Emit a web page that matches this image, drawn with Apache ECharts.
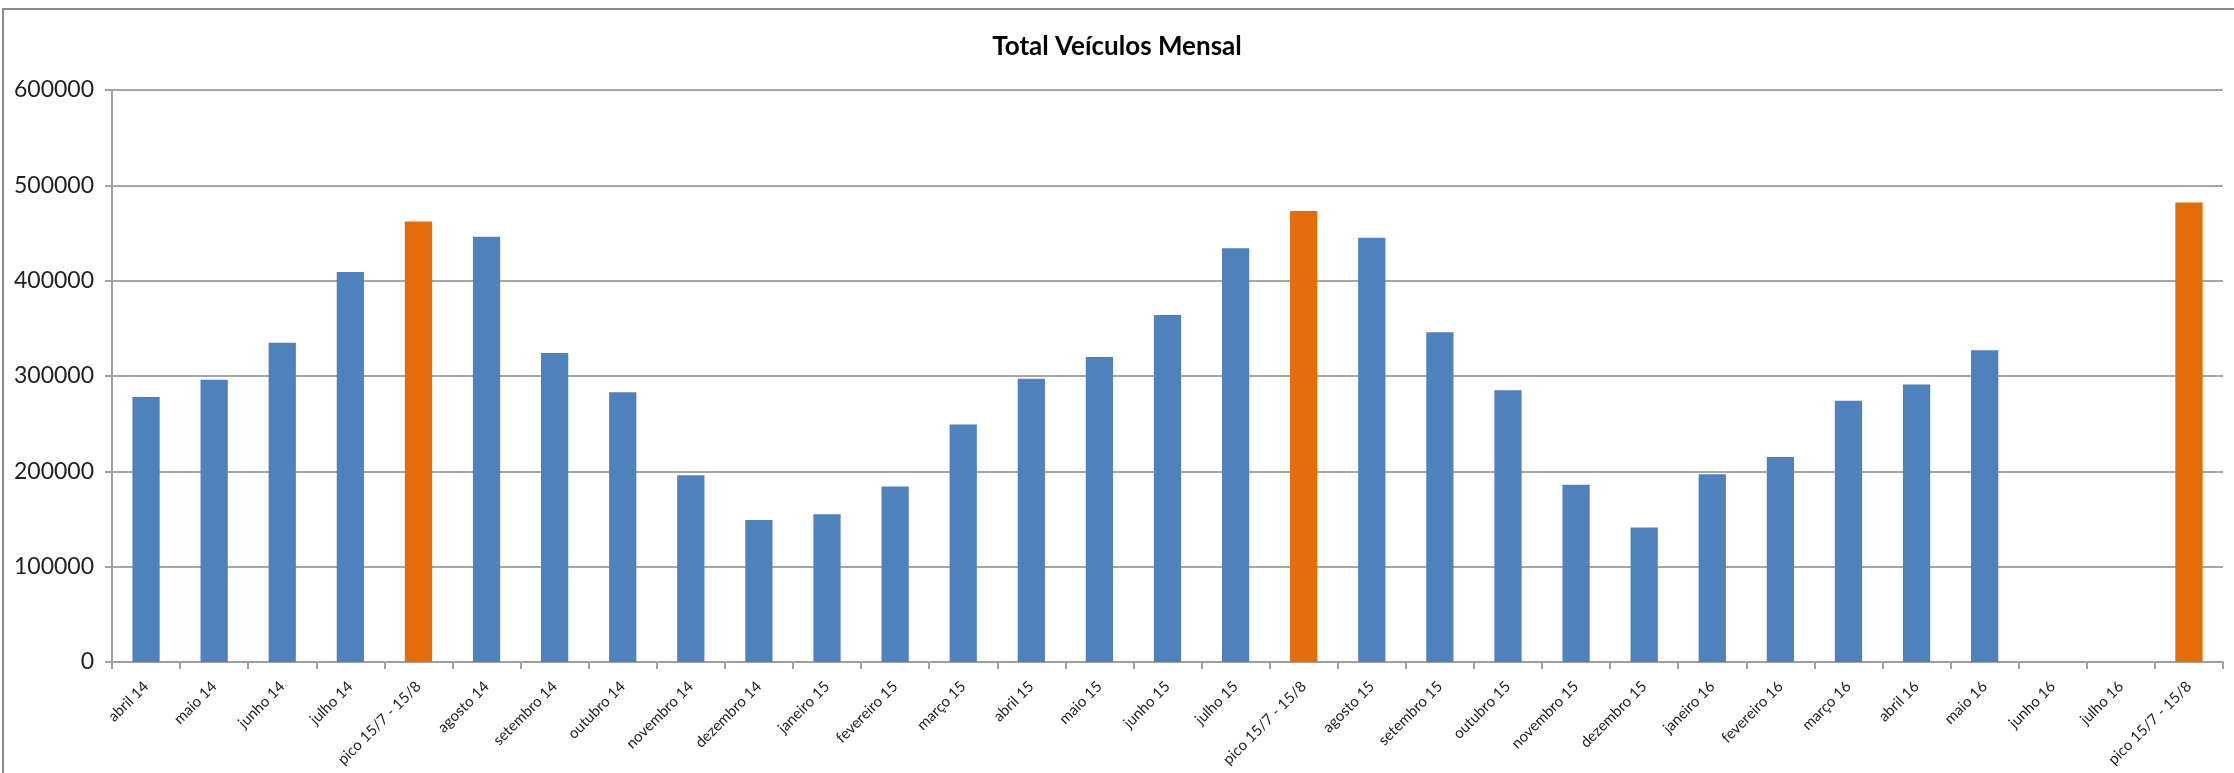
<!DOCTYPE html>
<html>
<head>
<meta charset="utf-8">
<script src="https://cdn.jsdelivr.net/npm/echarts@6/dist/echarts.min.js"></script>
<style>
html,body{margin:0;padding:0;background:#fff;}
#chart{width:2234px;height:773px;}
</style>
</head>
<body>
<div id="chart"></div>
<script>
const titleText = 'Total Veículos Mensal';
const categories = [
  'abril 14','maio 14','junho 14','julho 14','pico 15/7 - 15/8','agosto 14','setembro 14','outubro 14',
  'novembro 14','dezembro 14','janeiro 15','fevereiro 15','março 15','abril 15','maio 15','junho 15',
  'julho 15','pico 15/7 - 15/8','agosto 15','setembro 15','outubro 15','novembro 15','dezembro 15',
  'janeiro 16','fevereiro 16','março 16','abril 16','maio 16','junho 16','julho 16','pico 15/7 - 15/8'
];
const totals = [
  278000, 296000, 335000, 409000, 462000, 446000, 324000, 283000,
  196000, 149000, 155000, 184000, 249000, 297000, 320000, 364000,
  434000, 473000, 445000, 346000, 285000, 186000, 141000,
  197000, 215000, 274000, 291000, 327000, null, null, 482000
];
const peakIndices = [4, 17, 30];
const yTicks = [0, 100000, 200000, 300000, 400000, 500000, 600000];

const BLUE = '#4F81BD';
const ORANGE = '#E46C0A';

const chart = echarts.init(document.getElementById('chart'));
chart.setOption({
  backgroundColor: '#ffffff',
  animation: false,
  title: {
    text: titleText,
    left: 'center',
    top: 29,
    textStyle: { fontFamily: 'Lato', fontWeight: 'bold', fontSize: 26, color: '#000' }
  },
  graphic: [{
    type: 'rect',
    shape: { x: 3, y: 9, width: 2260, height: 800 },
    style: { fill: 'none', stroke: '#8c8c8c', lineWidth: 2 },
    silent: true
  }],
  grid: { left: 112, right: 11, top: 90, bottom: 111 },
  xAxis: {
    type: 'category',
    data: categories,
    axisLine: { lineStyle: { color: '#a0a0a0', width: 2 } },
    axisTick: { show: true, length: 7, alignWithLabel: false, lineStyle: { color: '#a0a0a0', width: 2 } },
    axisLabel: {
      interval: 0,
      rotate: 45,
      margin: 22,
      fontFamily: 'Lato',
      fontSize: 15,
      color: '#222'
    }
  },
  yAxis: {
    type: 'value',
    min: yTicks[0],
    max: yTicks[yTicks.length - 1],
    interval: yTicks[1] - yTicks[0],
    axisLine: { show: true, lineStyle: { color: '#a0a0a0', width: 2 } },
    axisTick: { show: true, length: 7, lineStyle: { color: '#a0a0a0', width: 2 } },
    splitLine: { lineStyle: { color: '#a6a6a6', width: 2 } },
    axisLabel: {
      margin: 18,
      fontFamily: 'Lato',
      fontSize: 23,
      color: '#222',
      formatter: v => String(v)
    }
  },
  series: [{
    type: 'bar',
    barCategoryGap: '60%',
    data: totals.map((v, i) => ({
      value: v,
      itemStyle: { color: peakIndices.includes(i) ? ORANGE : BLUE }
    }))
  }]
});
</script>
</body>
</html>
